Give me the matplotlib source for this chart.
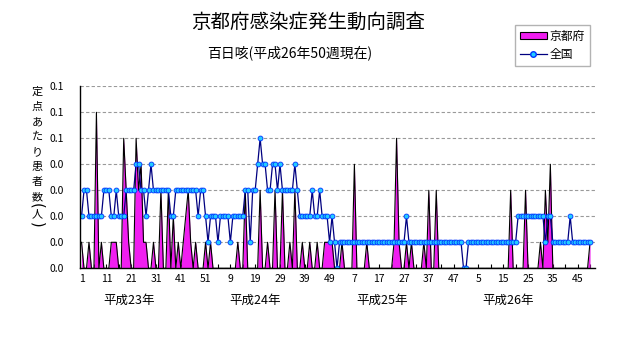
import numpy as np
import matplotlib.pyplot as plt
from matplotlib.lines import Line2D
from matplotlib.patches import Patch

plt.rcParams['font.family'] = ['Noto Sans CJK JP', 'DejaVu Sans']

title = '京都府感染症発生動向調査'
subtitle = '百日咳(平成26年50週現在)'
ylabel_chars = ['定', '点', 'あ', 'た', 'り', '患', '者', '数', '(', '人', ')']
years = ['平成23年', '平成24年', '平成25年', '平成26年']
series_names = ['京都府', '全国']

# 全国 定点あたり患者数 (週ごと)
zenkoku_h23 = [.02, .03, .03, .02, .02, .02, .02, .02, .02, .03,
               .03, .03, .02, .02, .03, .02, .02, .02, .03, .03,
               .03, .03, .04, .04, .03, .03, .02, .03, .04, .03,
               .03, .03, .03, .03, .03, .03, .02, .02, .03, .03,
               .03, .03, .03, .03, .03, .03, .03, .02, .03, .03,
               .02, .01]
zenkoku_h24 = [.02, .02, .02, .01, .02, .02, .02, .02, .01, .02,
               .02, .02, .02, .02, .03, .03, .01, .03, .03, .04,
               .05, .04, .04, .03, .03, .04, .04, .03, .04, .03,
               .03, .03, .03, .03, .04, .03, .02, .02, .02, .02,
               .02, .03, .02, .02, .03, .02, .02, .02, .01, .02,
               .01, 0]
zenkoku_h25 = [.01, .01, .01, .01, .01, .01, .01, .01, .01, .01,
               .01, .01, .01, .01, .01, .01, .01, .01, .01, .01,
               .01, .01, .01, .01, .01, .01, .01, .02, .01, .01,
               .01, .01, .01, .01, .01, .01, .01, .01, .01, .01,
               .01, .01, .01, .01, .01, .01, .01, .01, .01, .01,
               0, 0]
zenkoku_h26 = [.01, .01, .01, .01, .01, .01, .01, .01, .01, .01,
               .01, .01, .01, .01, .01, .01, .01, .01, .01, .01,
               .02, .02, .02, .02, .02, .02, .02, .02, .02, .02,
               .02, .01, .02, .02, .01, .01, .01, .01, .01, .01,
               .01, .02, .01, .01, .01, .01, .01, .01, .01, .01]

# 京都府 定点あたり患者数 (週ごと)
kyoto_h23 = [.01, 0, 0, .01, 0, 0, .06, 0, .01, 0,
             0, 0, .01, .01, .01, 0, 0, .05, .03, .01,
             0, 0, .05, .03, .04, .01, .01, 0, 0, .01,
             0, 0, .03, 0, 0, .03, 0, .02, 0, .01,
             0, .01, .02, .03, .01, 0, .01, 0, 0, 0,
             .01, 0]
kyoto_h24 = [.01, 0, 0, 0, 0, 0, 0, 0, 0, 0,
             0, .01, 0, 0, .03, 0, 0, 0, 0, 0,
             .03, 0, 0, .01, 0, 0, .03, 0, 0, .03,
             0, 0, .01, 0, .03, 0, 0, .01, 0, 0,
             .01, 0, 0, .01, 0, 0, .01, .01, .01, .01,
             0, 0]
kyoto_h25 = [0, .01, 0, 0, 0, 0, .04, 0, 0, 0,
             0, .01, 0, 0, 0, 0, 0, 0, 0, 0,
             0, 0, .01, .05, .01, 0, 0, .01, 0, .01,
             0, 0, 0, 0, .01, 0, .03, 0, 0, .03,
             0, 0, 0, 0, 0, 0, 0, 0, 0, 0,
             0, 0]
kyoto_h26 = [0, 0, 0, 0, 0, 0, 0, 0, 0, 0,
             0, 0, 0, 0, 0, 0, 0, .03, 0, 0,
             0, 0, 0, .03, 0, 0, 0, 0, 0, .01,
             0, .03, .01, .04, 0, 0, 0, 0, 0, 0,
             0, 0, 0, 0, 0, 0, 0, 0, 0, .01]

xtick_labels = ['1', '11', '21', '31', '41', '51', '9', '19', '29', '39', '49',
                '7', '17', '27', '37', '47', '5', '15', '25', '35', '45']
ytick_vals = [0, .01, .02, .03, .04, .05, .06, .07]
ytick_labels = ['0.0', '0.0', '0.0', '0.0', '0.0', '0.1', '0.1', '0.1']
year_label_pos = [19, 70, 121, 172]

kyoto = np.array(kyoto_h23 + kyoto_h24 + kyoto_h25 + kyoto_h26)
zenkoku = np.array(zenkoku_h23 + zenkoku_h24 + zenkoku_h25 + zenkoku_h26)
x = np.arange(len(kyoto))

W, H = 631, 347
fig = plt.figure(figsize=(W / 100, H / 100), dpi=100)
ax = fig.add_axes([80.3 / W, 1 - 268.3 / H, 514.7 / W, 182 / H])

# グリッド
ax.set_axisbelow(True)
ax.grid(axis='y', color='#9a9a9a', linestyle=(0, (3, 2)), linewidth=0.8)

# 京都府 (面)
ax.fill_between(x, 0, kyoto, color='#f01ef0', linewidth=0)
ax.plot(x, kyoto, color='black', linewidth=0.8)

# 全国 (折れ線)
ax.plot(x, zenkoku, color='#000080', linewidth=0.9, marker='o', markersize=3.5,
        markerfacecolor='#22ccff', markeredgecolor='#0033ff', markeredgewidth=0.6)

ax.set_xlim(-0.5, 207)
ax.set_ylim(0, 0.07)
ax.set_yticks(ytick_vals)
ax.set_yticklabels(ytick_labels, fontsize=7.5)
ax.set_xticks(np.arange(0, len(x), 10))
ax.set_xticklabels(xtick_labels, fontsize=7.5)
ax.set_xticks(np.arange(0, len(x), 5), minor=True)
ax.tick_params(axis='x', which='both', direction='in', length=2.8, width=0.8, pad=4)
ax.tick_params(axis='y', length=0, pad=12)

for s in ['top', 'right']:
    ax.spines[s].set_visible(False)
for s in ['left', 'bottom']:
    ax.spines[s].set_color('black')
    ax.spines[s].set_linewidth(1)

for pos, yr in zip(year_label_pos, years):
    ax.text(pos, -0.175, yr, transform=ax.get_xaxis_transform(),
            ha='center', va='center', fontsize=9)

# 縦書きラベル (括弧は横向きに回転)
ys = list(92 + 15 * np.arange(8)) + [206, 214, 225]
for yy, ch in zip(ys, ylabel_chars):
    if ch in '()':
        fig.text(37 / W, 1 - yy / H, ch, ha='center', va='center',
                 fontsize=10.5, rotation=-90, family=['DejaVu Sans'])
    else:
        fig.text(37 / W, 1 - yy / H, ch, ha='center', va='center', fontsize=8)

fig.text(308 / W, 1 - 22 / H, title, ha='center', va='center', fontsize=14)
fig.text(290 / W, 1 - 53 / H, subtitle, ha='center', va='center', fontsize=10)

handles = [Patch(facecolor='#f01ef0', edgecolor='black', linewidth=0.8),
           Line2D([], [], color='#000080', linewidth=0.9, marker='o', markersize=4,
                  markerfacecolor='#22ccff', markeredgecolor='#0033ff')]
fig.legend(handles, series_names, loc='upper left',
           bbox_to_anchor=(515 / W, 1 - 25 / H), fontsize=8.5,
           frameon=True, fancybox=False, edgecolor='#a0a0a0',
           borderpad=0.4, labelspacing=0.45, handlelength=2.3,
           handleheight=0.5, handletextpad=0.25, borderaxespad=0)

fig.savefig('out.png', dpi=100)
